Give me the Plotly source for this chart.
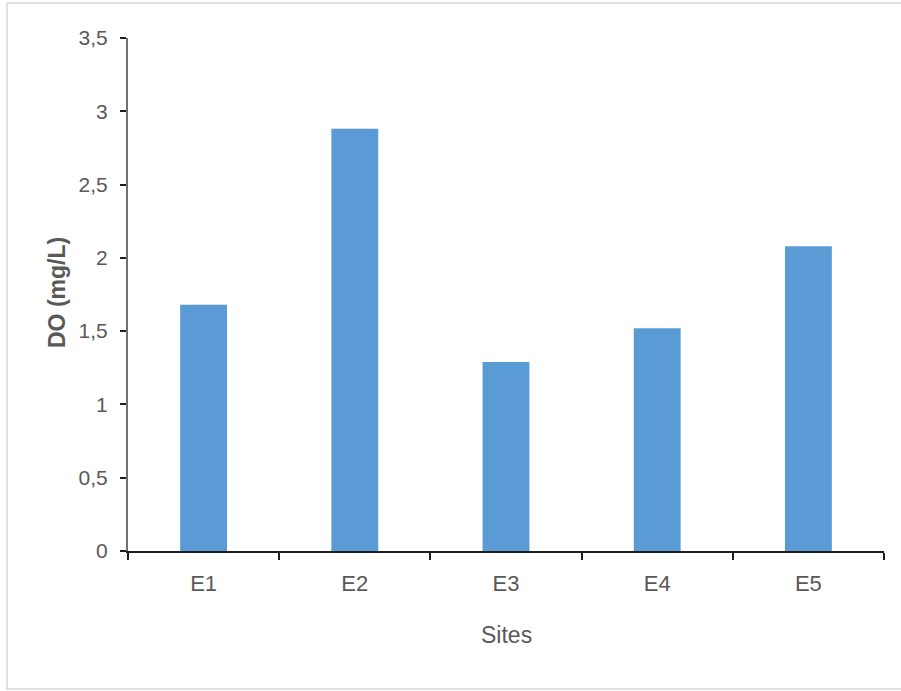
import plotly.graph_objects as go

sites = ["E1", "E2", "E3", "E4", "E5"]
do_values = [1.68, 2.88, 1.29, 1.52, 2.08]
y_tickvals = [0, 0.5, 1, 1.5, 2, 2.5, 3, 3.5]

FONT = "Liberation Sans, Arial, sans-serif"
TXT = "#595959"

fig = go.Figure(go.Bar(x=sites, y=do_values, marker_color="#5B9BD5",
                       marker_line_width=0, width=0.31))

L, R, T, B = 128, 884, 38, 551
W, H = 901, 691
fig.update_layout(
    width=W, height=H,
    margin=dict(l=L, r=W - R, t=T, b=H - B),
    paper_bgcolor="white", plot_bgcolor="white",
    separators=", ",
    showlegend=False,
    font=dict(family=FONT, color=TXT, size=20),
)
fig.update_xaxes(
    showline=True, linecolor="#1f1f1f", linewidth=2,
    ticks="outside", tickson="boundaries", ticklen=7, tickwidth=2, tickcolor="#1f1f1f",
    tickfont=dict(size=22, color=TXT, family=FONT),
    ticklabelstandoff=12,
    showgrid=False,
)
fig.update_yaxes(
    range=[0, 3.5], tickvals=y_tickvals,
    showline=True, linecolor="#707070", linewidth=2,
    ticks="outside", ticklen=6, tickwidth=2, tickcolor="#1f1f1f",
    tickfont=dict(size=21, color=TXT, family=FONT),
    ticklabelstandoff=8,
    showgrid=False, zeroline=False,
)
pw, ph = R - L, B - T
fig.add_annotation(text="Sites", xref="paper", yref="paper",
                   x=0.5, y=(B - 635) / ph, xanchor="center", yanchor="middle",
                   showarrow=False, font=dict(size=23, color=TXT, family=FONT))
fig.add_annotation(text="<b>DO (mg/L)</b>", xref="paper", yref="paper",
                   x=(57 - L) / pw, y=(B - 293) / ph, xanchor="center", yanchor="middle",
                   textangle=-90, showarrow=False,
                   font=dict(size=23, color=TXT, family=FONT))
fig.add_shape(type="rect", xref="paper", yref="paper",
              x0=(7 - L) / pw, x1=(910 - L) / pw,
              y0=(B - 689) / ph, y1=(B - 3) / ph,
              line=dict(color="#d9d9d9", width=1.5), layer="below")

fig.write_html("out.html", post_script="document.body.style.margin='0';",
               config={"displayModeBar": False})
